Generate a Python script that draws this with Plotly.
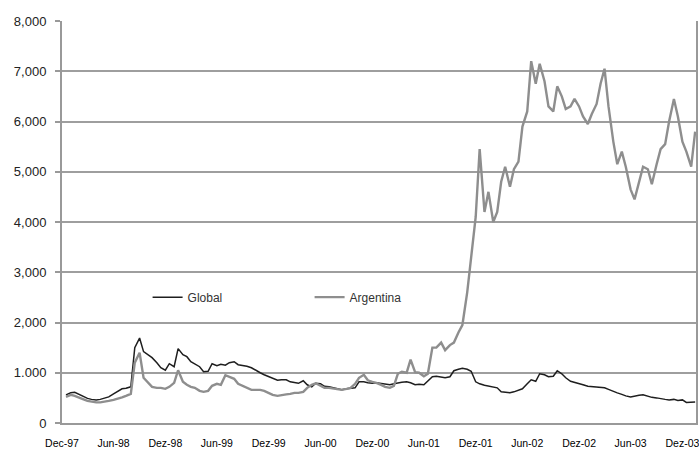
import pandas as pd
import plotly.graph_objects as go

# Half-monthly observations (1st and 15th), starting 15 Dec 1997
start_date = "1997-12-15"

global_vals = [
    560, 600, 610, 560, 520, 490, 470, 460, 470, 500,
    520, 580, 620, 680, 690, 720, 1500, 1690, 1420, 1350,
    1300, 1200, 1100, 1050, 1180, 1120, 1480, 1360, 1320, 1220,
    1180, 1120, 1020, 1030, 1180, 1140, 1170, 1150, 1200, 1220,
    1160, 1150, 1130, 1100, 1050, 1000, 960, 920, 880, 850,
    860, 860, 820, 800, 790, 840, 760, 720, 790, 780,
    730, 720, 700, 690, 660, 680, 690, 700, 820, 820,
    800, 790, 800, 790, 780, 760, 780, 800, 810, 820,
    800, 760, 770, 760, 840, 920, 930, 920, 900, 920,
    1040, 1070, 1090, 1070, 1030, 820, 780, 750, 730, 720,
    700, 620, 610, 600, 620, 650, 680, 780, 860, 830,
    980, 960, 920, 930, 1040, 980, 900, 830, 810, 790,
    760, 730, 720, 720, 710, 700, 670, 640, 600, 570,
    540, 520, 540, 550, 560, 530, 510, 500, 480, 470,
    460, 470, 450, 460, 410, 420, 420,
]

argentina_vals = [
    520, 560, 540, 510, 470, 440, 420, 410, 410, 420,
    440, 460, 480, 510, 540, 580, 1200, 1400, 900, 800,
    720, 700, 700, 680, 720, 800, 1050, 820, 760, 720,
    700, 640, 620, 640, 740, 780, 760, 950, 920, 880,
    780, 740, 700, 660, 660, 660, 640, 600, 560, 540,
    560, 570, 580, 600, 600, 620, 700, 760, 790, 740,
    700, 700, 690, 680, 660, 680, 700, 780, 900, 960,
    850, 820, 800, 760, 720, 700, 740, 980, 1020, 1000,
    1260, 1010, 1000, 930, 980, 1500, 1500, 1600, 1450, 1550,
    1600, 1800, 1950, 2600, 3300, 4100, 5450, 4200, 4600, 4000,
    4200, 4800, 5100, 4700, 5050, 5200, 5900, 6200, 7200, 6750,
    7150, 6800, 6300, 6200, 6700, 6500, 6250, 6300, 6450, 6300,
    6100, 5950, 6150, 6350, 6750, 7050, 6300, 5600, 5150, 5400,
    5100, 4650, 4450, 4800, 5100, 5050, 4750, 5150, 5450, 5550,
    6000, 6450, 6100, 5600, 5400, 5100, 5800,
]

tick_dates = [
    "1997-12-01", "1998-06-01", "1998-12-01", "1999-06-01", "1999-12-01",
    "2000-06-01", "2000-12-01", "2001-06-01", "2001-12-01", "2002-06-01",
    "2002-12-01", "2003-06-01", "2003-12-01",
]
tick_labels = [
    "Dec-97", "Jun-98", "Dez-98", "Jun-99", "Dez-99", "Jun-00", "Dez-00",
    "Jun-01", "Dez-01", "Jun-02", "Dez-02", "Jun-03", "Dez-03",
]
y_ticks = [0, 1000, 2000, 3000, 4000, 5000, 6000, 7000, 8000]
y_labels = ["0", "1.000", "2,000", "3,000", "4,000", "5,000", "6,000", "7,000", "8,000"]

dates = pd.date_range(start_date, periods=len(global_vals), freq="SMS")

fig = go.Figure()
fig.add_trace(go.Scatter(
    x=dates, y=global_vals, name="Global", mode="lines",
    line=dict(color="#1e1e1e", width=1.5),
))
fig.add_trace(go.Scatter(
    x=dates, y=argentina_vals, name="Argentina", mode="lines",
    line=dict(color="#8e8e8e", width=2.4),
))

fig.update_layout(
    width=699, height=449,
    margin=dict(l=62, r=3, t=21, b=26, autoexpand=False),
    paper_bgcolor="white", plot_bgcolor="white",
    font=dict(family="Liberation Sans, Arial, sans-serif", color="#222222"),
    showlegend=True,
    legend=dict(
        orientation="h", x=0.135, y=0.313, xanchor="left", yanchor="middle",
        bgcolor="rgba(0,0,0,0)", font=dict(size=12, color="#333333"),
        entrywidth=117, entrywidthmode="pixels", itemwidth=30,
    ),
)
fig.update_xaxes(
    range=["1997-12-01", "2004-01-18"],
    tickvals=tick_dates, ticktext=tick_labels,
    tickfont=dict(size=10.5, color="#000000"),
    ticks="outside", ticklen=9, tickcolor="rgba(0,0,0,0)",
    ticklabeloverflow="allow",
    showgrid=False, zeroline=False, automargin=False,
    showline=True, linecolor="#999999", linewidth=2, mirror=False,
)
fig.update_yaxes(
    range=[0, 8000],
    tickvals=y_ticks, ticktext=y_labels,
    tickfont=dict(size=13, color="#222222"),
    ticks="outside", ticklen=5, tickcolor="#999999", tickwidth=2,
    ticklabelstandoff=6, automargin=False,
    showgrid=True, gridcolor="#9e9e9e", gridwidth=2,
    zeroline=False,
    showline=True, linecolor="#999999", linewidth=2, mirror=True,
)

fig.write_html(
    "out.html",
    config={"displayModeBar": False},
    post_script="document.body.style.margin='0';document.body.style.padding='0';",
)
